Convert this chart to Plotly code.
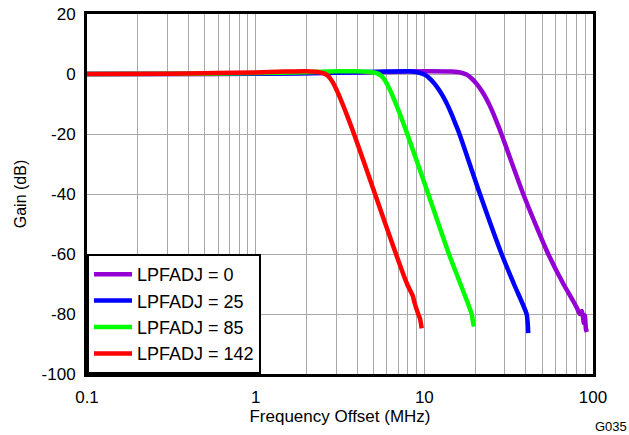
import plotly.graph_objects as go

# Frequency offset (MHz) and gain (dB)
purple_f = [0.1, 0.3, 1, 3, 6, 10, 14.48, 16.60, 17.77, 19.02, 20.37, 21.81, 23.03, 24.32, 25.68, 27.13, 28.64,
            38.58, 45.56, 54.27, 66.76, 76.0, 80.3, 83.6, 85.9, 88.3, 89.5, 90.8, 92.0]
purple_db = [0, 0, 0.1, 0.4, 0.7, 0.9, 0.8, 0.4, -0.2, -1.4, -3.2, -5.5, -7.7, -10.3, -13.3, -16.6, -20,
             -40, -50, -60, -70, -75.5, -78, -80, -79, -83, -80.5, -85, -86]

blue_f = [0.1, 1, 3, 6, 8.16, 9.35, 10.01, 10.72, 11.48, 12.29, 12.98, 13.71, 14.48, 15.29, 16.15,
          21.36, 28.72, 33.98, 40.40, 40.84, 41.12, 41.29]
blue_db = [0, 0.1, 0.4, 0.8, 0.9, 0.4, -0.2, -1.4, -3.2, -5.5, -7.7, -10.3, -13.3, -16.6, -20,
           -40, -60, -70, -80, -82, -84, -86.4]

green_f = [0.1, 0.5, 1, 2, 3, 4, 4.91, 5.26, 5.55, 5.87, 6.28, 6.63, 7.00, 7.50, 7.92,
           10.55, 13.99, 16.37, 19.07, 19.41, 19.68]
green_db = [0, 0.1, 0.3, 0.6, 0.9, 0.9, 0.6, 0.2, -0.6, -2.3, -5.5, -8.6, -11.9, -16.3, -20,
            -40, -60, -70, -80, -82.5, -84.2]

red_f = [0.1, 0.3, 0.6, 1.0, 1.5, 2.0, 2.37, 2.54, 2.68, 2.83, 3.03, 3.20, 3.38, 3.62, 3.83,
         5.10, 6.79, 7.90, 8.55, 8.72, 9.20, 9.42, 9.64]
red_db = [0, 0.1, 0.3, 0.5, 0.8, 0.9, 0.6, 0.2, -0.6, -2.3, -5.5, -8.6, -11.9, -16.3, -20,
          -40, -60, -70, -74, -76, -80, -81.5, -84.8]

series_names = ["LPFADJ = 0", "LPFADJ = 25", "LPFADJ = 85", "LPFADJ = 142"]
series_colors = ["#9400D3", "#0000FF", "#00FF00", "#FF0000"]
series_f = [purple_f, blue_f, green_f, red_f]
series_db = [purple_db, blue_db, green_db, red_db]

x_tick_vals = [0.1, 1, 10, 100]
x_tick_text = ["0.1", "1", "10", "100"]
y_tick_vals = [-100, -80, -60, -40, -20, 0, 20]
y_tick_text = ["-100", "-80", "-60", "-40", "-20", "0", "20"]

fig = go.Figure()
for name, f, db, color in zip(series_names, series_f, series_db, series_colors):
    fig.add_trace(go.Scatter(
        x=f, y=db, name=name, mode="lines",
        line=dict(color=color, width=4.5, shape="spline", smoothing=0.8),
    ))

# vertical grid: 1..9 per decade
grid_vals = []
for d in [0.1, 1, 10]:
    for k in range(1, 10):
        grid_vals.append(round(d * k, 6))
grid_vals.append(100)
grid_text = [x_tick_text[x_tick_vals.index(v)] if v in x_tick_vals else "" for v in grid_vals]

font_family = "Liberation Sans, Arial, sans-serif"

fig.update_layout(
    width=629, height=435,
    margin=dict(l=87, r=36, t=14, b=61, autoexpand=False),
    paper_bgcolor="white", plot_bgcolor="white",
    font=dict(family=font_family, size=18, color="black"),
    showlegend=True,
    legend=dict(
        x=0, y=0, xanchor="left", yanchor="bottom",
        bgcolor="white", bordercolor="black", borderwidth=2,
        font=dict(size=18), itemwidth=38, tracegroupgap=0,
    ),
    xaxis=dict(
        type="log", range=[-1, 2],
        tickvals=grid_vals, ticktext=grid_text,
        showgrid=True, gridcolor="#A8A8A8", gridwidth=1,
        showline=True, linecolor="black", linewidth=3, mirror=True,
        ticks="", ticklabelstandoff=6,
        title=dict(text="Frequency Offset (MHz)", font=dict(size=17), standoff=3),
        tickfont=dict(size=17),
        zeroline=False, automargin=False,
    ),
    yaxis=dict(
        range=[-100, 20], tickvals=y_tick_vals, ticktext=y_tick_text,
        showgrid=True, gridcolor="#A8A8A8", gridwidth=1,
        showline=True, linecolor="black", linewidth=3, mirror=True,
        ticks="", ticklabelstandoff=5,
        title=dict(text="Gain (dB)", font=dict(size=16), standoff=11),
        tickfont=dict(size=17),
        zeroline=False, automargin=False,
    ),
    annotations=[dict(
        text="G035", xref="paper", yref="paper", x=1.0711, y=0,
        xanchor="right", yanchor="middle", yshift=-52,
        showarrow=False, font=dict(size=13),
    )],
)

fig.write_html("out.html", config={"displayModeBar": False},
               post_script="document.body.style.margin='0px';")
